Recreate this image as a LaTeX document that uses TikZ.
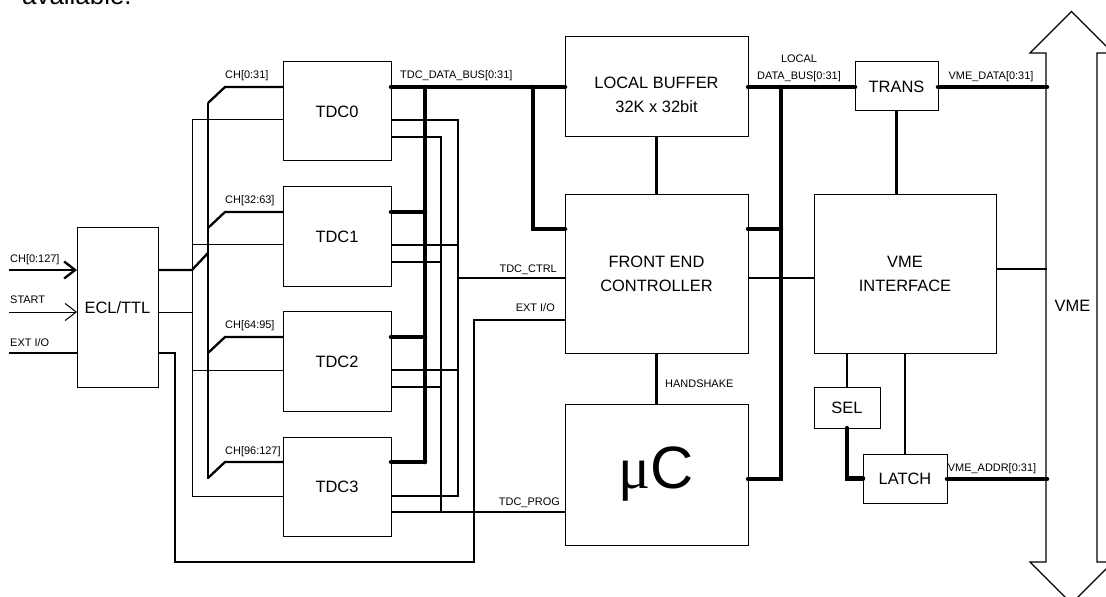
\documentclass[tikz,border=0pt]{standalone}
\usepackage{fontspec}
\setmainfont{Liberation Sans}
\newfontfamily\serifmu{Liberation Serif}
\usetikzlibrary{arrows.meta}
\begin{document}
\begin{tikzpicture}[x=1bp,y=-1bp,
 box/.style={draw, line width=1bp, inner sep=0pt, outer sep=0pt, align=center, font=\fontsize{16.5}{24}\selectfont},
 bus/.style={line width=4.5bp, line cap=round},
 sig/.style={line width=2.3bp},
 fine/.style={line width=1bp},
 lbl/.style={font=\fontsize{11}{13}\selectfont, inner sep=0pt},
 big/.style={font=\fontsize{16.5}{24}\selectfont, inner sep=0pt, align=center},
 barb/.style={-{Straight Barb[length=11bp,width=17bp]}},
]
\useasboundingbox (0,0) rectangle (1106,597);
\clip (0,0) rectangle (1106,597);

\node[anchor=base west, inner sep=0pt, font=\fontsize{26}{30}\selectfont] (avail) at (22,5) {available.};

% boxes
\node[box, minimum width=81bp, minimum height=159bp] (ecl) at (117.5,307.5) {ECL/TTL};
\foreach \i/\y in {0/111.5,1/236.5,2/361.5,3/486.5}
  \node[box, minimum width=108bp, minimum height=99bp] (tdc\i) at (337,\y) {TDC\i};
\node[box, minimum width=183bp, minimum height=100bp] (lb) at (656.5,87) {};
\node[big] (lbtext) at (656.5,94.5) {LOCAL BUFFER\\32K x 32bit};
\node[box, minimum width=183bp, minimum height=158bp] (fec) at (656.5,274) {FRONT END\\CONTROLLER};
\node[box, minimum width=183bp, minimum height=141bp, font=\fontsize{60}{64}\selectfont] (uc) at (656.5,474.5) {{\serifmu μ}C};
\node[box, minimum width=83bp, minimum height=49bp] (trans) at (896.5,86.5) {TRANS};
\node[box, minimum width=182bp, minimum height=158bp] (vmei) at (905,274) {VME\\INTERFACE};
\node[box, minimum width=66bp, minimum height=41bp] (sel) at (847,407.5) {SEL};
\node[box, minimum width=84bp, minimum height=49bp] (latch) at (905,478.5) {LATCH};

% VME bus arrow
\draw[line width=1.2bp, line join=miter] (1046,53) -- (1030,53) -- (1071.5,11.5) -- (1113,53) -- (1097,53) -- (1097,562) -- (1113,562) -- (1071.5,603.5) -- (1030,562) -- (1046,562) -- cycle;
\node[big] (vmelbl) at (1072.5,306) {VME};
\coordinate (vd) at (1047,87);
\coordinate (vi) at (1047,269);
\coordinate (va) at (1047,479);

% inputs
\coordinate (inCH) at (9,270);
\coordinate (inST) at (9,312);
\coordinate (inEX) at (9,353);
\draw[sig, barb] (inCH) -- (ecl.west |- inCH);
\draw[fine, barb] (inST) -- (ecl.west |- inST);
\draw[sig] (inEX) -- (ecl.west |- inEX);
\node[lbl, anchor=base west] (lch) at (10,263) {CH[0:127]};
\node[lbl, anchor=base west] (lst) at (10,304) {START};
\node[lbl, anchor=base west] (lex) at (10,346.5) {EXT I/O};

% CH bus to TDCs
\draw[sig] (ecl.east |- 0,270) -- (192,270) -- (208,253);
\draw[sig] (208,103) -- (208,479);
\foreach \i/\y in {0/87,1/212,2/337,3/462}
  \draw[sig] (208,\y+16) -- (225,\y) -- (tdc\i.west |- 0,\y);
\node[lbl, anchor=base west] (lc0) at (225,79) {CH[0:31]};
\node[lbl, anchor=base west] (lc1) at (225,204) {CH[32:63]};
\node[lbl, anchor=base west] (lc2) at (225,329) {CH[64:95]};
\node[lbl, anchor=base west] (lc3) at (225,454) {CH[96:127]};

% START net
\draw[fine] (ecl.east |- 0,312) -- (192,312);
\draw[fine] (192,120) -- (192,496);
\foreach \i/\y in {0/120,1/245,2/370,3/496}
  \draw[fine] (192,\y) -- (tdc\i.west |- 0,\y);

% EXT I/O
\draw[sig] (ecl.east |- 0,353) -- (175,353) -- (175,562) -- (474,562) -- (474,320) -- (fec.west |- 0,320);
\node[lbl, anchor=base east] (lext) at (555,312) {EXT I/O};

% TDC_CTRL
\draw[sig] (tdc0.east |- 0,120) -- (458,120) -- (458,496) -- (tdc3.east |- 0,496);
\foreach \i/\y in {1/245,2/370} \draw[sig] (tdc\i.east |- 0,\y) -- (458,\y);
\draw[sig] (458,278) -- (fec.west |- 0,278);
\node[lbl, anchor=base east] (lctrl) at (557,273) {TDC\_CTRL};

% TDC_PROG
\draw[sig] (tdc0.east |- 0,137) -- (441,137) -- (441,512);
\foreach \i/\y in {1/262,2/387} \draw[sig] (tdc\i.east |- 0,\y) -- (441,\y);
\draw[sig] (tdc3.east |- 0,512) -- (uc.west |- 0,512);
\node[lbl, anchor=base east] (lprog) at (560,505) {TDC\_PROG};

% TDC data bus
\draw[bus] (tdc0.east |- 0,87) -- (lb.west |- 0,87);
\draw[bus] (425,87) -- (425,462);
\foreach \i/\y in {1/212,2/337,3/462} \draw[bus] (tdc\i.east |- 0,\y) -- (425,\y);
\draw[bus] (533,87) -- (533,229) -- (fec.west |- 0,229);
\node[lbl, anchor=base west] (ltdb) at (400,79) {TDC\_DATA\_BUS[0:31]};

% central links
\draw[sig] (lb.south) -- (fec.north);
\draw[sig] (fec.south) -- (uc.north);
\node[lbl, anchor=base west] (lhs) at (665,387) {HANDSHAKE};

% local data bus
\draw[bus] (lb.east |- 0,87) -- (trans.west |- 0,87);
\draw[bus] (781,87) -- (781,479) -- (uc.east |- 0,479);
\draw[bus] (fec.east |- 0,229) -- (781,229);
\node[lbl] (lloc) at (799,58.5) {LOCAL};
\node[lbl, anchor=base] (lldb) at (799,80) {DATA\_BUS[0:31]};
\draw[sig] (fec.east |- 0,278) -- (vmei.west |- 0,278);

% VME side
\draw[sig] (trans.south) -- (trans.south |- vmei.north);
\draw[bus] (trans.east |- vd) -- (vd);
\node[lbl, anchor=base] (lvd) at (991,80) {VME\_DATA[0:31]};
\draw[sig] (vmei.east |- vi) -- (vi);
\draw[sig] (vmei.south -| sel.north) -- (sel.north);
\draw[sig] (vmei.south) -- (latch.north);
\draw[bus] (sel.south) -- (sel.south |- latch.west) -- (latch.west);
\draw[bus] (latch.east |- va) -- (va);
\node[lbl, anchor=base] (lva) at (992,471) {VME\_ADDR[0:31]};
\end{tikzpicture}
\end{document}
